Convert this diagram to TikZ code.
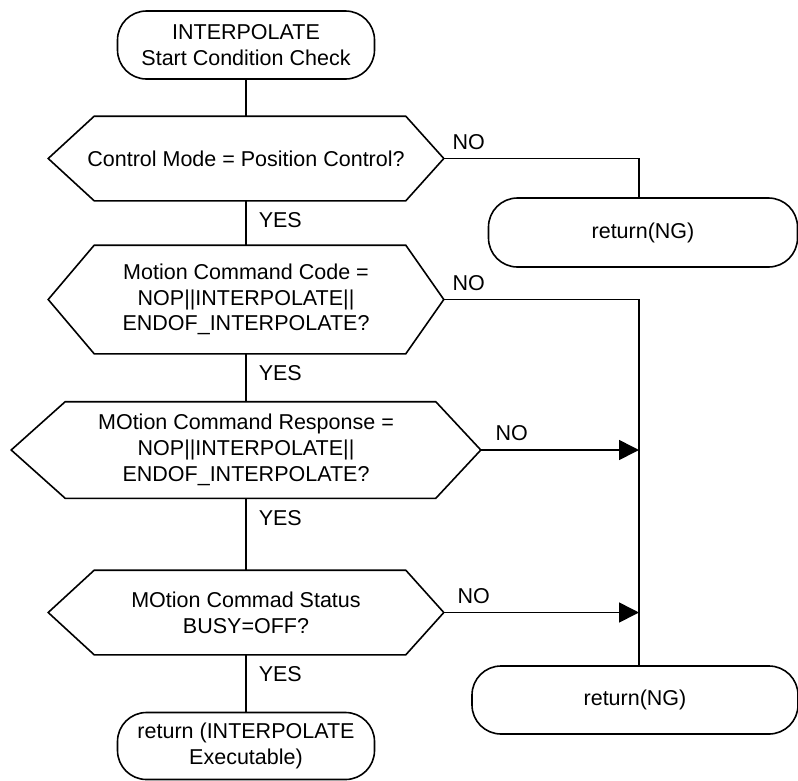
\documentclass[tikz,border=0pt]{standalone}
\usepackage{fontspec}
\setmainfont{Liberation Sans}
\usepackage{tikz}
\usetikzlibrary{calc,arrows.meta}
\newcommand\flowfont{\fontsize{21.5}{25.7}\selectfont}
\tikzset{
  term/.style={draw,rounded corners=29pt,align=center,inner sep=0pt},
  decision/.style={inner sep=0pt,align=center},
  yeslab/.style={anchor=north west,inner sep=0pt,xshift=12pt,yshift=-11pt},
  nolab/.style={anchor=south west,inner sep=0pt,xshift=8pt,yshift=8pt},
  every node/.style={font=\flowfont}
}
\tikzstyle{arrow} = [-{Triangle[length=20pt,width=20pt]}]

\begin{document}
\begin{tikzpicture}[x=1pt,y=-1pt,line width=1.6pt]
  \useasboundingbox (0,0) rectangle (798,780);
  % terminals
  \node[term,minimum width=257pt,minimum height=68pt] (start) at (246,45)
    {INTERPOLATE\\Start Condition Check};
  \node[term,minimum width=257pt,minimum height=67pt] (done) at (246,746)
    {return (INTERPOLATE\\Executable)};
  \node[term,minimum width=309pt,minimum height=69pt] (ng1) at (643,232.5) {return(NG)};
  \node[term,minimum width=326pt,minimum height=68pt] (ng2) at (635,700) {return(NG)};
  % checks
  \node[decision,minimum width=394pt,minimum height=83pt] (cm) at (246,158.5)
    {Control Mode = Position Control?};
  \node[decision,minimum width=394pt,minimum height=107pt] (cc) at (246,299.5)
    {Motion Command Code =\\NOP||INTERPOLATE||\\ENDOF\_INTERPOLATE?};
  \node[decision,minimum width=468pt,minimum height=95pt] (cr) at (246,450)
    {MOtion Command Response =\\NOP||INTERPOLATE||\\ENDOF\_INTERPOLATE?};
  \node[decision,minimum width=394pt,minimum height=83pt] (cs) at (246,612.5)
    {MOtion Commad Status\\BUSY=OFF?};
  % hexagon outlines (left/right chamfer)
  \foreach \q/\cl/\cr in {cm/46/38,cc/46/38,cr/54/45,cs/46/38}
    \draw let \p1=(\q.north west), \p2=(\q.south east) in
      (\q.west) -- (\x1+\cl pt,\y1) -- (\x2-\cr pt,\y1) -- (\q.east)
      -- (\x2-\cr pt,\y2) -- (\x1+\cl pt,\y2) -- cycle;
  \coordinate (bus) at (639,0);
  % main line
  \draw (start.south) -- (cm.north);
  \draw (cm.south) node[yeslab] {YES} -- (cc.north);
  \draw (cc.south) node[yeslab] {YES} -- (cr.north);
  \draw (cr.south) node[yeslab] {YES} -- (cs.north);
  \draw (cs.south) node[yeslab] {YES} -- (done.north);
  % NO branches
  \draw (cm.east) node[nolab] {NO} -| (bus |- ng1.north);
  \draw (cc.east) node[nolab] {NO} -| (bus |- ng2.north);
  \draw[arrow] (cr.east) node[nolab,xshift=6pt] {NO} -- (cr.east -| bus);
  \draw[arrow] (cs.east) node[nolab,xshift=5pt] {NO} -- (cs.east -| bus);
\end{tikzpicture}
\end{document}
